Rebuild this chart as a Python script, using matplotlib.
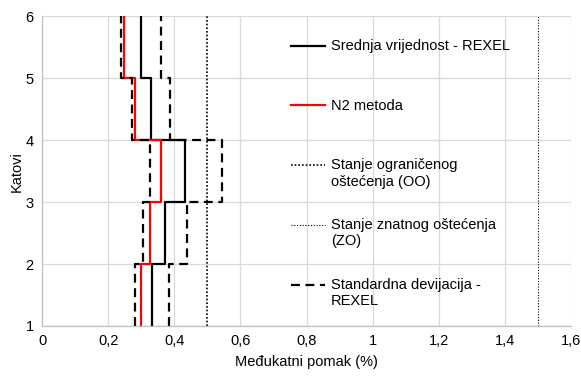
import matplotlib
matplotlib.use("Agg")
import matplotlib.pyplot as plt
import numpy as np
from matplotlib.legend_handler import HandlerLine2D

plt.rcParams['font.family'] = ['Liberation Sans', 'DejaVu Sans']

floors = [1, 2, 3, 4, 5, 6]
mean_rexel = [0.332, 0.373, 0.433, 0.330, 0.300]
n2_method = [0.298, 0.326, 0.359, 0.280, 0.248]
sd_low = [0.280, 0.306, 0.325, 0.273, 0.240]
sd_high = [0.383, 0.438, 0.543, 0.386, 0.361]
limit_oo = 0.5
limit_zo = 1.5
x_ticks = [0, 0.2, 0.4, 0.6, 0.8, 1.0, 1.2, 1.4, 1.6]
x_tick_labels = ["0", "0,2", "0,4", "0,6", "0,8", "1", "1,2", "1,4", "1,6"]
y_ticks = [1, 2, 3, 4, 5, 6]
labels = ["Srednja vrijednost - REXEL", "N2 metoda",
          "Stanje ograničenog\noštećenja (OO)",
          "Stanje znatnog oštećenja\n(ZO)",
          "Standardna devijacija -\nREXEL"]

FS = 10.5


class FirstLineHandler(HandlerLine2D):
    """Place the legend line level with the first text line."""
    def __init__(self, shift, **kw):
        super().__init__(**kw)
        self.shift = shift

    def create_artists(self, legend, orig_handle, xdescent, ydescent,
                       width, height, fontsize, trans):
        return super().create_artists(legend, orig_handle, xdescent,
                                      ydescent - 2 * self.shift, width,
                                      height, fontsize, trans)


def steps(vals):
    xs, ys = [], []
    for i, v in enumerate(vals):
        xs += [v, v]
        ys += [floors[i], floors[i + 1]]
    return xs, ys


fig = plt.figure(figsize=(5.81, 3.76), dpi=100)
ax = fig.add_axes([0.0723, 0.133, 0.911, 0.824])

x, y = steps(mean_rexel)
l1, = ax.plot(x, y, color='black', lw=1.6)
x, y = steps(n2_method)
l2, = ax.plot(x, y, color='#ff0000', lw=1.6)
l3, = ax.plot([limit_oo, limit_oo], [floors[0], floors[-1]], color='black', lw=1.2,
              linestyle=(0, (1, 1.2)))
l4, = ax.plot([limit_zo, limit_zo], [floors[0], floors[-1]], color='black', lw=0.8,
              linestyle=(0, (1, 1.5)))
x, y = steps(sd_low)
l5, = ax.plot(x, y, color='black', lw=1.6, linestyle=(0, (4, 2.5)))
x, y = steps(sd_high)
ax.plot(x, y, color='black', lw=1.6, linestyle=(0, (4, 2.5)))

ax.set_xlim(0, 1.6)
ax.set_ylim(1, 6)
ax.set_xticks(x_ticks)
ax.set_xticklabels(x_tick_labels)
ax.set_yticks(y_ticks)
ax.tick_params(length=0, labelsize=FS, colors='#000000', pad=6)
ax.grid(True, color='#d9d9d9', lw=0.9)
ax.set_axisbelow(True)
for s in ['top', 'right']:
    ax.spines[s].set_visible(False)
for s in ['left', 'bottom']:
    ax.spines[s].set_color('#bfbfbf')
    ax.spines[s].set_linewidth(0.9)

ax.set_xlabel("Međukatni pomak (%)", fontsize=FS, labelpad=5)
ax.set_ylabel("Katovi", fontsize=FS, labelpad=1)

# pad every label to two lines so entries are evenly spaced
leg_labels = [lab if "\n" in lab else lab + "\n" for lab in labels]
handles = [l1, l2, l3, l4, l5]
hmap = {h: FirstLineHandler(0.6 * FS) for h in handles}
leg = ax.legend(handles, leg_labels, loc='upper left', handler_map=hmap,
                bbox_to_anchor=(0.452, 0.96), frameon=False, fontsize=FS,
                handlelength=2.3, handletextpad=0.4, labelspacing=2.03,
                borderpad=0.2)

fig.savefig("out.png", dpi=100)
